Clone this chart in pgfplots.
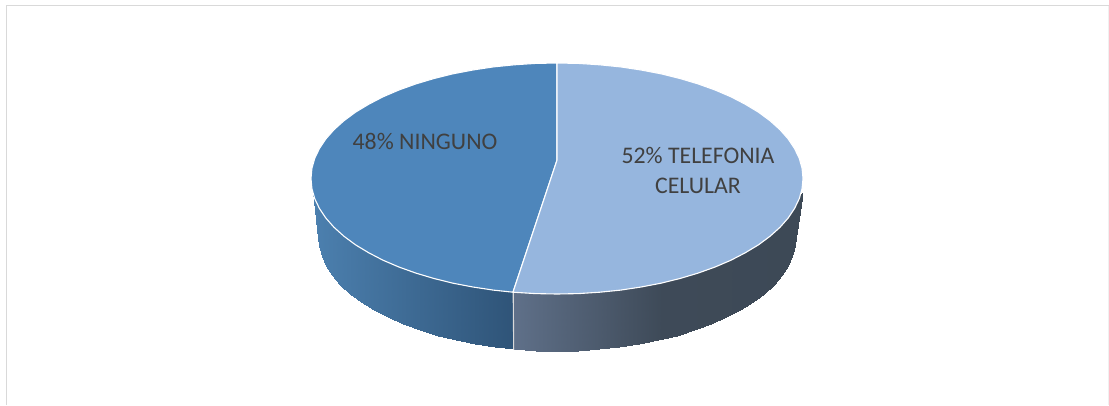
\documentclass[border=0pt]{standalone}
\usepackage{fontspec}
\setmainfont{Carlito}
\usepackage{pgfplots}
\usepackage{pgfplotstable}
\pgfplotsset{compat=1.18}
\definecolor{ninguno}{RGB}{78,134,187}
\definecolor{telefonia}{RGB}{150,182,222}
\definecolor{rotulo}{RGB}{64,64,64}
\definecolor{marco}{RGB}{217,217,217}

% side wall, left slice: first row under the top face, second row on the bottom rim
\pgfplotstableread{
x y c
313 192 312
318 200 318
318.9 200 319
321.6 200 322
326.1 200 326
332.4 200 332
340.4 200 340
350 200 350
361.2 200 361
373.9 200 374
388 200 388
403.4 200 403
419.9 200 420
437.5 200 437
456 200 456
475.3 200 475
495.1 200 495
513.5 200 513
318 238 312
318 238 318
318.9 246 319
321.6 256 322
326.1 265.8 326
332.4 275.3 332
340.4 284.6 340
350 293.5 350
361.2 302 361
373.9 309.9 374
388 317.3 388
403.4 324.1 403
419.9 330.2 420
437.5 335.6 437
456 340.2 456
475.3 344.1 475
495.1 347.1 495
513.5 349 513
}\paredizq

% side wall, right slice (c shifted so that it has its own part of the colormap)
\pgfplotstableread{
x y c
513.5 200 523
536.2 200 546
557 200 567
577.8 200 588
598.5 200 608
618.9 200 629
638.7 200 649
658 200 668
676.5 200 686
694.1 200 704
710.6 200 721
726 200 736
740.1 200 750
752.8 200 763
764 200 774
773.6 200 784
781.6 200 792
787.9 200 798
792.4 200 802
795.1 200 805
796 200 806
802.5 192 812
513.5 349 523
536.2 350.6 546
557 351 567
577.8 350.6 588
598.5 349.3 608
618.9 347.1 629
638.7 344.1 649
658 340.2 668
676.5 335.6 686
694.1 330.2 704
710.6 324.1 721
726 317.3 736
740.1 309.9 750
752.8 302 763
764 293.5 774
773.6 284.6 784
781.6 275.3 792
787.9 265.8 798
792.4 256 802
795.1 246 805
796 236 806
796 238 812
}\paredder

\begin{document}
\begin{tikzpicture}
\begin{axis}[
  scale only axis,
  width=1109pt, height=405pt,
  xmin=0, xmax=1109, ymin=0, ymax=405,
  y dir=reverse,
  hide axis,
  point meta min=312, point meta max=812,
  colormap={paredes}{rgb255(0pt)=(76,128,175) rgb255(201pt)=(47,84,120) rgb255(202pt)=(95,112,137) rgb255(211pt)=(95,112,137) rgb255(360pt)=(62,74,88) rgb255(500pt)=(61,73,86)},
]
% keeps the page as large as the whole chart
\path (axis cs:0,0) rectangle (axis cs:1109,405);

% frame of the chart area
\addplot[draw=marco, line width=1.6pt, mark=none] coordinates {(6.5,405) (6.5,5.5) (1109,5.5)};
\addplot[draw=marco!40, line width=1pt, mark=none] coordinates {(1108.5,5.5) (1108.5,405)};

% side walls
\addplot[surf, shader=interp, mesh/rows=2, point meta=\thisrow{c}] table[x=x, y=y] {\paredizq};
\addplot[surf, shader=interp, mesh/rows=2, point meta=\thisrow{c}] table[x=x, y=y] {\paredder};
\addplot[draw=white!85!black, line width=1.1pt, mark=none] coordinates {(513.2,292) (513.7,349.5)};

% top face: 48% NINGUNO
\addplot[fill=ninguno, draw=white, line width=1.1pt, line join=round, mark=none] coordinates {
  (557,160) (513,292.2) (493.3,290.1) (472.9,287) (453,283.2) (434,278.5) (415.9,273.1)
  (398.9,267) (383,260.2) (368.6,252.7) (355.5,244.8) (344,236.3) (334,227.3) (325.8,218)
  (319.4,208.4) (314.7,198.6) (311.9,188.6) (311,178.5) (311.9,168.4) (314.7,158.4)
  (319.4,148.6) (325.8,139) (334,129.7) (344,120.7) (355.5,112.2) (368.6,104.3) (383,96.8)
  (398.9,90) (415.9,83.9) (434,78.5) (453,73.8) (472.9,70) (493.3,66.9) (514.3,64.8)
  (535.5,63.4) (557,63)
} -- cycle;

% top face: 52% TELEFONIA CELULAR
\addplot[fill=telefonia, draw=white, line width=1.1pt, line join=round, mark=none] coordinates {
  (557,160) (557,63) (578.5,63.4) (599.7,64.8) (620.7,66.9) (641.1,70) (661,73.8) (680,78.5)
  (698.1,83.9) (715.1,90) (731,96.8) (745.4,104.3) (758.5,112.2) (770,120.7) (780,129.7)
  (788.2,139) (794.6,148.6) (799.3,158.4) (802.1,168.4) (803,178.5) (802.1,188.6) (799.3,198.6)
  (794.6,208.4) (788.2,218) (780,227.3) (770,236.3) (758.5,244.8) (745.4,252.7) (731,260.2)
  (715.1,267) (698.1,273.1) (680,278.5) (661,283.2) (641.1,287) (620.7,290.1) (599.7,292.2)
  (578.5,293.6) (557,294) (535.5,293.6) (513,292.2)
} -- cycle;

\node[font=\fontsize{23.8}{30}\selectfont, text=rotulo] at (axis cs:425,141) {48\% NINGUNO};
\node[font=\fontsize{23.8}{30}\selectfont, text=rotulo, align=center] at (axis cs:698,170) {52\% TELEFONIA\\CELULAR};
\end{axis}
\end{tikzpicture}
\end{document}
